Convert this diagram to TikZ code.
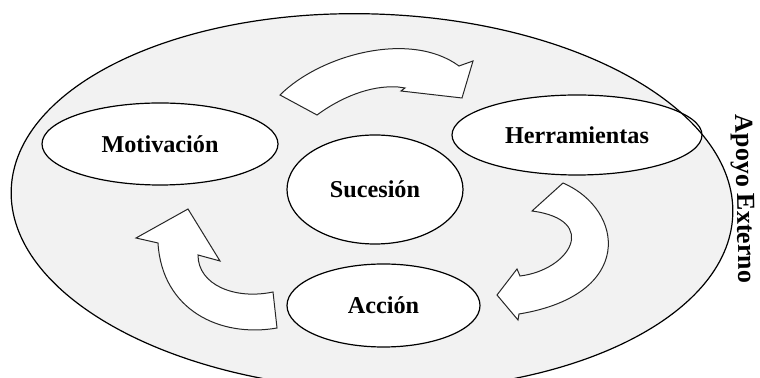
\documentclass[tikz,border=0pt]{standalone}
\usepackage{fontspec}
\setmainfont{Liberation Serif}
\usetikzlibrary{shapes.geometric}

\begin{document}
\begin{tikzpicture}[x=0.5pt, y=-0.5pt,
    ring/.style={rotate around={-2:(372,202)}, line width=0.6pt},
    bubble/.style={ellipse, draw, fill=white, line width=0.6pt, inner sep=0pt,
      font=\fontsize{12.1}{14}\selectfont\bfseries},
    ringlabel/.style={inner sep=0pt, font=\fontsize{13}{15}\selectfont\bfseries},
    bendarrow/.style={draw=black!85, fill=white, line width=0.5pt, line join=miter}]
    \useasboundingbox (0,0) rectangle (760,378);
    \clip (0,0) rectangle (760,378);

    % outer ring
    \fill[ring, black!5] (372,202) ellipse [x radius=361, y radius=188];
    \node[ringlabel, rotate=-89] (apoyo) at (743,199) {Apoyo Externo};

    \node[bubble, minimum width=118pt, minimum height=41pt] (motiv) at (160,144) {Motivación};
    \node[bubble, minimum width=125pt, minimum height=40pt] (herram) at (577,135) {Herramientas};
    \node[bubble, minimum width=88pt, minimum height=54.5pt] (suces) at (375,189.5) {Sucesión};
    \node[bubble, minimum width=96.5pt, minimum height=41.5pt] (accion) at (383.5,305.5) {Acción};

    \draw[ring] (372,202) ellipse [x radius=361, y radius=188];

    % curved block arrows
    \draw[bendarrow] (280,95) .. controls (320,55) and (410,30) .. (459,66) -- (473,61)
      -- (462,98) -- (401,91) -- (405,88) -- (398,87)
      .. controls (370,85) and (340,98) .. (317,115) -- cycle;
    \draw[bendarrow] (563,183) .. controls (625,210) and (635,295) .. (519,314) -- (518,320)
      -- (497,295) -- (517,269) -- (520,276)
      .. controls (570,270) and (600,220) .. (532,211) -- cycle;
    \draw[bendarrow] (188,209) -- (220,261) -- (198,255)
      .. controls (198,285) and (235,300) .. (273,292) -- (277,328)
      .. controls (220,338) and (162,310) .. (158,243) -- (136,238) -- cycle;
\end{tikzpicture}
\end{document}
